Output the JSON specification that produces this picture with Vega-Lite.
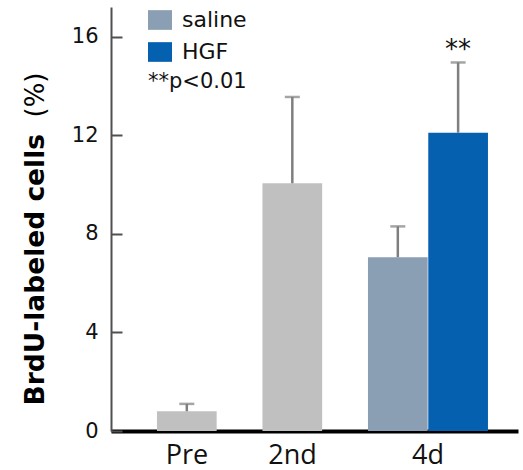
{
  "$schema": "https://vega.github.io/schema/vega-lite/v6.json",
  "width": 407,
  "height": 424,
  "autosize": {"type": "none"},
  "padding": {"left": 111, "top": 7, "right": 5, "bottom": 39},
  "background": "white",
  "config": {"view": {"stroke": null}, "font": "DejaVu Sans"},
  "data": {
    "values": [
      {"time": "Pre", "arm": "saline", "treatment": "control", "mean": 0.8, "upper": 1.1},
      {"time": "2nd", "arm": "saline", "treatment": "control", "mean": 10.05, "upper": 13.55},
      {"time": "4d", "arm": "saline", "treatment": "saline", "mean": 7.05, "upper": 8.3},
      {"time": "4d", "arm": "HGF", "treatment": "HGF", "mean": 12.1, "upper": 14.95, "sig": "**"}
    ]
  },
  "encoding": {
    "x": {
      "field": "time",
      "type": "nominal",
      "sort": ["Pre", "2nd", "4d"],
      "scale": {"domain": ["Pre", "2nd", "4d"], "paddingInner": 0.4313, "paddingOuter": 0.6446, "align": 0.338},
      "axis": {
        "title": null,
        "ticks": false,
        "domainColor": "black",
        "domainWidth": 4,
        "labelFont": "Open Sans",
        "labelFontSize": 27,
        "labelColor": "#111111",
        "labelPadding": 11,
        "labelAngle": 0,
        "labelOffset": {"condition": {"test": "datum.value === '4d'", "value": 30}, "value": 0}
      }
    },
    "xOffset": {
      "field": "arm",
      "type": "nominal",
      "scale": {"domain": ["saline", "HGF"], "range": [0, 120], "paddingInner": 0.01, "paddingOuter": 0}
    }
  },
  "resolve": {"axis": {"y": "independent"}},
  "layer": [
    {
      "mark": {"type": "bar"},
      "encoding": {
        "y": {
          "field": "mean",
          "type": "quantitative",
          "scale": {"domain": [0, 17.2], "nice": false, "zero": true},
          "axis": {
            "orient": "left",
            "values": [0, 4, 8, 12, 16],
            "grid": false,
            "tickSize": -11,
            "tickWidth": 2,
            "tickColor": "#505050",
            "domainColor": "#505050",
            "domainWidth": 2,
            "labelPadding": 24,
            "labelFont": "DejaVu Sans",
            "labelFontSize": 21,
            "labelColor": "#111111",
            "title": "BrdU-labeled cells",
            "titleFont": "DejaVu Sans",
            "titleFontWeight": "bold",
            "titleFontSize": 26.5,
            "titleColor": "#000000",
            "titleAngle": -90,
            "titleAlign": "left",
            "titleBaseline": "middle",
            "titleX": -76,
            "titleY": 398
          }
        },
        "color": {
          "field": "treatment",
          "type": "nominal",
          "scale": {"domain": ["saline", "HGF", "control"], "range": ["#8a9fb4", "#0560b0", "#c0c0c0"]},
          "legend": {
            "values": ["saline", "HGF"],
            "orient": "none",
            "legendX": 37,
            "legendY": 1,
            "padding": 0,
            "title": "**p<0.01",
            "titleOrient": "bottom",
            "titleAnchor": "start",
            "titleFont": "DejaVu Sans",
            "titleFontSize": 21,
            "titleFontWeight": "normal",
            "titleColor": "#111111",
            "titlePadding": 8,
            "labelFont": "DejaVu Sans",
            "labelFontSize": 22,
            "labelColor": "#111111",
            "labelOffset": 10,
            "symbolType": "M-1,-0.82H1V0.82H-1Z",
            "symbolSize": 576,
            "symbolStrokeWidth": 0,
            "symbolOpacity": 1,
            "rowPadding": 9
          }
        }
      }
    },
    {
      "mark": {"type": "rule", "color": "#7f7f7f", "strokeWidth": 2.5},
      "encoding": {
        "y": {"field": "mean", "type": "quantitative", "axis": null},
        "y2": {"field": "upper"}
      }
    },
    {
      "mark": {"type": "tick", "color": "#7f7f7f", "size": 15, "thickness": 2.5, "orient": "horizontal"},
      "encoding": {
        "y": {"field": "upper", "type": "quantitative", "axis": null}
      }
    },
    {
      "transform": [{"filter": "datum.sig != null"}],
      "mark": {"type": "text", "fontSize": 26, "dy": -4, "baseline": "alphabetic", "color": "#111111", "font": "DejaVu Sans"},
      "encoding": {
        "y": {
          "field": "upper",
          "type": "quantitative",
          "axis": {
            "orient": "left",
            "labels": false,
            "ticks": false,
            "domain": false,
            "grid": false,
            "title": "(%)",
            "titleFont": "DejaVu Sans",
            "titleFontWeight": "normal",
            "titleFontSize": 26,
            "titleColor": "#000000",
            "titleAngle": -90,
            "titleAlign": "left",
            "titleBaseline": "middle",
            "titleX": -76,
            "titleY": 110
          }
        },
        "text": {"field": "sig"}
      }
    }
  ]
}
